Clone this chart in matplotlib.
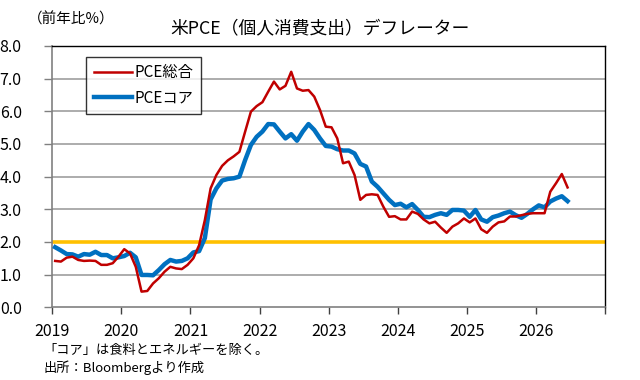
import numpy as np
import matplotlib
matplotlib.use('Agg')
import matplotlib.pyplot as plt

plt.rcParams['font.family'] = ['Noto Sans CJK JP', 'DejaVu Sans']

# monthly year-on-year %, Jan 2019 - Jun 2026
pce_total = [1.42, 1.40, 1.52, 1.55, 1.45, 1.42, 1.43, 1.42, 1.30, 1.30, 1.35, 1.55,
             1.78, 1.65, 1.24, 0.48, 0.50, 0.73, 0.89, 1.09, 1.24, 1.19, 1.17, 1.30,
             1.50, 1.90, 2.67, 3.64, 4.05, 4.33, 4.50, 4.62, 4.76, 5.38, 5.99, 6.16,
             6.28, 6.60, 6.91, 6.67, 6.78, 7.21, 6.70, 6.63, 6.65, 6.45, 6.04, 5.53,
             5.51, 5.17, 4.41, 4.46, 4.05, 3.29, 3.44, 3.46, 3.44, 3.08, 2.77, 2.79,
             2.69, 2.69, 2.93, 2.86, 2.69, 2.57, 2.62, 2.44, 2.28, 2.47, 2.57, 2.72,
             2.60, 2.72, 2.39, 2.28, 2.47, 2.60, 2.63, 2.78, 2.78, 2.82, 2.86, 2.88,
             2.88, 2.88, 3.54, 3.80, 4.08, 3.67]
pce_core = [1.84, 1.74, 1.63, 1.62, 1.55, 1.63, 1.61, 1.70, 1.60, 1.60, 1.50, 1.53,
            1.57, 1.67, 1.53, 0.99, 0.99, 0.98, 1.14, 1.32, 1.45, 1.40, 1.42, 1.50,
            1.68, 1.72, 2.12, 3.30, 3.64, 3.88, 3.93, 3.95, 4.00, 4.51, 4.97, 5.22,
            5.38, 5.61, 5.60, 5.38, 5.17, 5.30, 5.10, 5.38, 5.61, 5.43, 5.17, 4.94,
            4.92, 4.84, 4.80, 4.80, 4.71, 4.39, 4.31, 3.85, 3.69, 3.49, 3.29, 3.13,
            3.17, 3.06, 3.16, 2.98, 2.77, 2.76, 2.83, 2.88, 2.83, 2.98, 2.98, 2.96,
            2.77, 2.98, 2.69, 2.62, 2.76, 2.81, 2.88, 2.93, 2.82, 2.74, 2.86, 3.00,
            3.12, 3.06, 3.24, 3.33, 3.40, 3.25]
target = 2.0
years = [2019, 2020, 2021, 2022, 2023, 2024, 2025, 2026, 2027]
year_labels = ['2019', '2020', '2021', '2022', '2023', '2024', '2025', '2026', '']

x = 2019 + (np.arange(len(pce_total)) + 0.5) / 12

fig = plt.figure(figsize=(6.4, 3.8), dpi=100)
ax = fig.add_axes([0.0817, 0.1913, 0.8636, 0.6877])

ax.set_ylim(0, 8)
ax.set_xlim(2019, 2027)
ax.set_yticks(np.arange(0, 9, 1))
ax.set_yticklabels([f'{v:.1f}' for v in range(9)])
ax.set_xticks(years)
ax.set_xticklabels(year_labels)

for v in range(1, 8):
    ax.axhline(v, color='#a6a6a6', lw=1.3, zorder=1)
ax.axhline(target, color='#ffc000', lw=2.6, zorder=2)

ax.plot(x, pce_total, color='#c00000', lw=1.8, label='PCE総合', zorder=4)
ax.plot(x, pce_core, color='#0070c0', lw=3.2, label='PCEコア', zorder=3)

for s in ['top', 'right']:
    ax.spines[s].set_color('black')
    ax.spines[s].set_linewidth(1.0)
for s in ['left', 'bottom']:
    ax.spines[s].set_color('#808080')
    ax.spines[s].set_linewidth(1.2)

ax.tick_params(axis='y', length=6, width=1, color='#808080', pad=16, labelsize=11.5)
ax.tick_params(axis='x', length=5, width=1, color='#404040', pad=6, labelsize=11.5)

leg = ax.legend(loc='upper left', bbox_to_anchor=(0.047, 0.988), fontsize=11,
                frameon=True, fancybox=False, edgecolor='black', handlelength=2.5,
                handletextpad=0.2, borderpad=0.5, labelspacing=0.5)
leg.get_frame().set_linewidth(1.0)

fig.text(0.5, 0.925, '米PCE（個人消費支出）デフレーター', ha='center', va='center', fontsize=12.8)
fig.text(0.043, 0.95, '（前年比%）', ha='left', va='center', fontsize=10.5)
fig.text(0.068, 0.078, '「コア」は食料とエネルギーを除く。', ha='left', va='center', fontsize=9.5)
fig.text(0.068, 0.033, '出所：Bloombergより作成', ha='left', va='center', fontsize=9.5)

fig.savefig('out.png', dpi=100)
